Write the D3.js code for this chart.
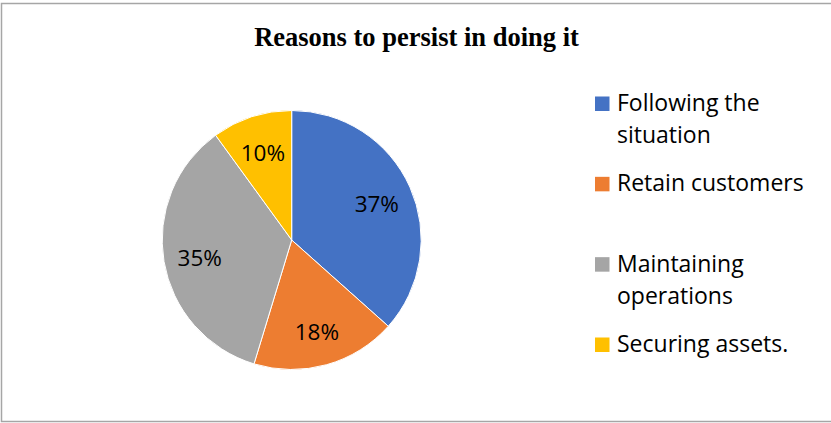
<!DOCTYPE html>
<html>
<head>
<meta charset="utf-8">
<script src="https://cdn.jsdelivr.net/npm/d3@7"></script>
<style>
  body { margin: 0; background: #fff; }
</style>
</head>
<body>
<div id="chart"></div>
<script>
const categories = ["Following the situation", "Retain customers", "Maintaining operations", "Securing assets."];
const legendLines = [["Following the", "situation"], ["Retain customers"], ["Maintaining", "operations"], ["Securing assets."]];
const shares = [0.366, 0.181, 0.353, 0.100];
const colors = ["#4472c4", "#ed7d31", "#a5a5a5", "#ffc000"];
const title = "Reasons to persist in doing it";

const width = 831;
const height = 423;

const svg = d3.select("#chart")
  .append("svg")
  .attr("width", width)
  .attr("height", height);

// chart frame
svg.append("rect")
  .attr("x", 1.5)
  .attr("y", 3.5)
  .attr("width", 840)
  .attr("height", 418)
  .attr("fill", "#fff")
  .attr("stroke", "#a6a6a6")
  .attr("stroke-width", 1.5);

svg.append("text")
  .attr("x", 416.5)
  .attr("y", 46)
  .attr("text-anchor", "middle")
  .style("font-family", "'Liberation Serif', 'Times New Roman', serif")
  .style("font-weight", "bold")
  .style("font-size", "26.5px")
  .text(title);

const cx = 291.7, cy = 240, r = 129.5;

const pie = d3.pie().sort(null).value(d => d)(shares);
const arc = d3.arc().innerRadius(0).outerRadius(r);
const labelArc = d3.arc().innerRadius(r * 0.72).outerRadius(r * 0.72);

const g = svg.append("g").attr("transform", `translate(${cx},${cy})`);

g.selectAll("path")
  .data(pie)
  .enter()
  .append("path")
  .attr("d", arc)
  .attr("fill", (d, i) => colors[i])
  .attr("stroke", "#fff")
  .attr("stroke-width", 1);

const fmt = d3.format(".0%");

g.selectAll("text.lbl")
  .data(pie)
  .enter()
  .append("text")
  .attr("class", "lbl")
  .attr("transform", d => `translate(${labelArc.centroid(d)})`)
  .attr("text-anchor", "middle")
  .attr("dy", "0.45em")
  .style("font-family", "'Open Sans', sans-serif")
  .style("font-size", "22.5px")
  .style("fill", "#000")
  .text(d => fmt(d.data));

// legend
const legend = svg.append("g").attr("transform", "translate(595,0)");
const rowY = d3.scaleLinear().domain([0, 3]).range([111, 352]);

const items = legend.selectAll("g.item")
  .data(categories)
  .enter()
  .append("g")
  .attr("class", "item")
  .attr("transform", (d, i) => `translate(0,${rowY(i)})`);

items.append("rect")
  .attr("x", 0)
  .attr("y", -14.5)
  .attr("width", 14.5)
  .attr("height", 14.5)
  .attr("fill", (d, i) => colors[i]);

items.append("text")
  .attr("x", 22)
  .attr("y", 0)
  .style("font-family", "'Open Sans', sans-serif")
  .style("font-size", "23px")
  .style("fill", "#000")
  .selectAll("tspan")
  .data((d, i) => legendLines[i])
  .enter()
  .append("tspan")
  .attr("x", 22)
  .attr("dy", (d, j) => j === 0 ? 0 : 32)
  .text(d => d);
</script>
</body>
</html>
